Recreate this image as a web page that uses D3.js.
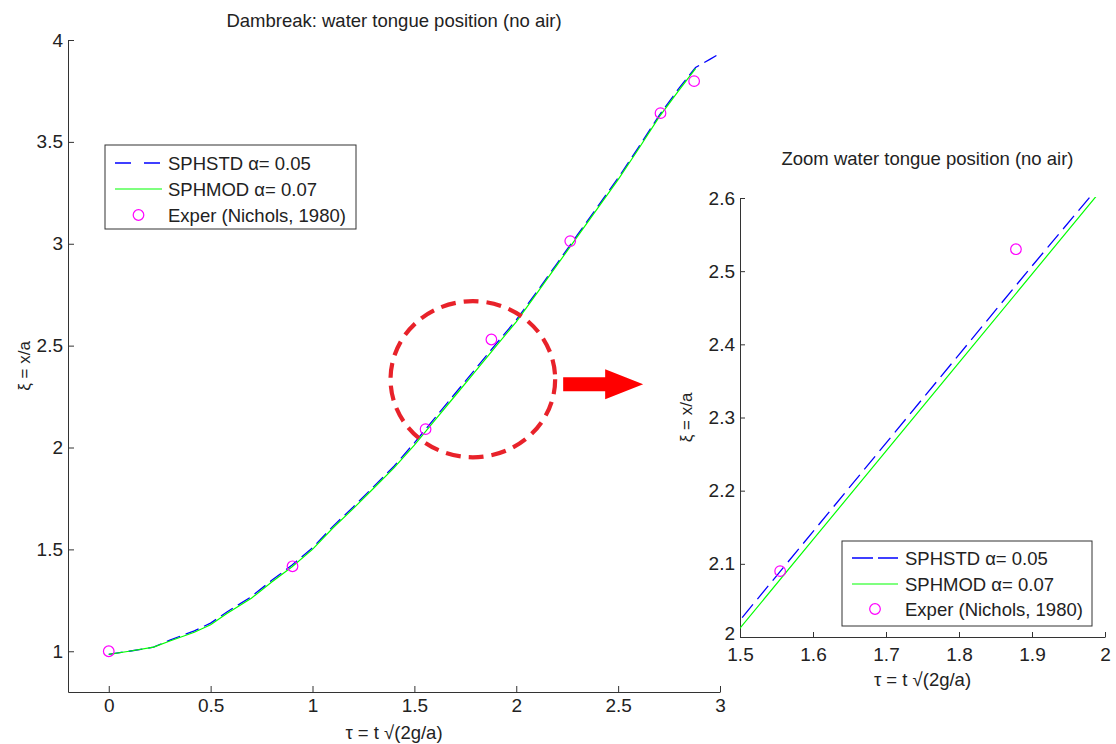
<!DOCTYPE html>
<html>
<head>
<meta charset="utf-8">
<script src="https://cdn.jsdelivr.net/npm/d3@7"></script>
<style>
  html, body { margin: 0; padding: 0; background: #fff; }
  svg { display: block; font-family: "Liberation Sans", Arial, sans-serif; }
  .axis path, .axis line { stroke: #333; stroke-width: 1; }
  .axis text { fill: #222; font-size: 19px; font-family: "Liberation Sans", Arial, sans-serif; }
</style>
</head>
<body>
<svg id="fig" width="1116" height="744"></svg>
<script>
// Water tongue position, SPH runs (dimensionless time tau vs front position xi)
const tauStd = [0, 0.1, 0.22, 0.3, 0.42, 0.5, 0.58, 0.7, 0.8, 0.9, 1.0, 1.1, 1.2, 1.3, 1.4, 1.5, 1.6, 1.7, 1.8, 1.9, 2.0, 2.1, 2.2, 2.3, 2.4, 2.5, 2.6, 2.7, 2.8, 2.88, 2.95, 3.0];
const xiStd  = [0.985, 1.0, 1.02, 1.055, 1.10, 1.138, 1.193, 1.268, 1.348, 1.423, 1.508, 1.613, 1.708, 1.808, 1.908, 2.023, 2.144, 2.265, 2.386, 2.507, 2.626, 2.763, 2.903, 3.043, 3.183, 3.323, 3.473, 3.628, 3.765, 3.865, 3.905, 3.934];

const tauMod = [0, 0.1, 0.22, 0.3, 0.42, 0.5, 0.58, 0.7, 0.8, 0.9, 1.0, 1.1, 1.2, 1.3, 1.4, 1.5, 1.6, 1.7, 1.8, 1.9, 2.0, 2.1, 2.2, 2.3, 2.4, 2.5, 2.6, 2.7, 2.8, 2.88];
const xiMod  = [0.985, 1.0, 1.02, 1.05, 1.093, 1.13, 1.185, 1.26, 1.34, 1.415, 1.50, 1.605, 1.70, 1.80, 1.90, 2.012, 2.133, 2.254, 2.375, 2.496, 2.617, 2.755, 2.895, 3.035, 3.175, 3.315, 3.465, 3.62, 3.755, 3.86];

// Experiment (Nichols, 1980)
const tauExp = [0, 0.902, 1.555, 1.878, 2.265, 2.708, 2.873];
const xiExp  = [1.0, 1.417, 2.09, 2.53, 3.013, 3.641, 3.798];

// Tick values and labels
const mainXTicks = [0, 0.5, 1, 1.5, 2, 2.5, 3];
const mainXLabels = ["0", "0.5", "1", "1.5", "2", "2.5", "3"];
const mainYTicks = [1, 1.5, 2, 2.5, 3, 3.5, 4];
const mainYLabels = ["1", "1.5", "2", "2.5", "3", "3.5", "4"];
const zoomXTicks = [1.5, 1.6, 1.7, 1.8, 1.9, 2.0];
const zoomXLabels = ["1.5", "1.6", "1.7", "1.8", "1.9", "2"];
const zoomYTicks = [2.0, 2.1, 2.2, 2.3, 2.4, 2.5, 2.6];
const zoomYLabels = ["2", "2.1", "2.2", "2.3", "2.4", "2.5", "2.6"];

const seriesNames = ["SPHSTD \u03B1= 0.05", "SPHMOD \u03B1= 0.07", "Exper (Nichols, 1980)"];

const BLUE = "#0000ff", GREEN = "#00ff00", MAGENTA = "#ff00ff";

const svg = d3.select("#fig");

const stdData = tauStd.map((t, i) => [t, xiStd[i]]);
const modData = tauMod.map((t, i) => [t, xiMod[i]]);
const expData = tauExp.map((t, i) => [t, xiExp[i]]);

function drawPanel(cfg) {
  const { x, y, id } = cfg;
  const g = svg.append("g");
  const [x0, x1] = x.range();
  const [y0, y1] = y.range();

  g.append("clipPath").attr("id", id)
    .append("rect")
    .attr("x", x0).attr("y", y1 - 1)
    .attr("width", x1 - x0 + 1).attr("height", y0 - y1 + 1);

  // axes: left and bottom only, ticks pointing inward
  g.append("g").attr("class", "axis")
    .attr("transform", `translate(0,${y0})`)
    .call(d3.axisBottom(x).tickValues(cfg.xTicks)
      .tickFormat((d, i) => cfg.xLabels[i])
      .tickSizeInner(-cfg.tick).tickSizeOuter(0).tickPadding(cfg.xPad));

  const yAxis = g.append("g").attr("class", "axis")
    .attr("transform", `translate(${x0},0)`)
    .call(d3.axisLeft(y).tickValues(cfg.yTicks)
      .tickFormat((d, i) => cfg.yLabels[i])
      .tickSizeInner(-cfg.tick).tickSizeOuter(0).tickPadding(5));
  // lift the lowest y label a little so it clears the first x label
  yAxis.selectAll(".tick text").filter((d, i) => i === 0)
    .attr("y", -cfg.lowLift);

  const line = d3.line().x(d => x(d[0])).y(d => y(d[1]));
  const plot = g.append("g").attr("clip-path", `url(#${id})`);

  plot.append("path").datum(stdData)
    .attr("d", line).attr("fill", "none")
    .attr("stroke", BLUE).attr("stroke-width", 1.3)
    .attr("stroke-dasharray", cfg.dash);

  plot.append("path").datum(modData)
    .attr("d", line).attr("fill", "none")
    .attr("stroke", GREEN).attr("stroke-width", 1.2);

  const [dx0, dx1] = x.domain();
  const [dy0, dy1] = y.domain();
  g.append("g").selectAll("circle")
    .data(expData.filter(d => d[0] >= dx0 && d[0] <= dx1 && d[1] >= dy0 && d[1] <= dy1))
    .join("circle")
    .attr("cx", d => x(d[0])).attr("cy", d => y(d[1]))
    .attr("r", 5.3).attr("fill", "none")
    .attr("stroke", MAGENTA).attr("stroke-width", 1.2);

  // title and axis labels
  g.append("text")
    .attr("x", (x0 + x1) / 2 + cfg.titleDx).attr("y", cfg.titleY)
    .attr("text-anchor", "middle").attr("font-size", 18.5).attr("fill", "#222")
    .text(cfg.title);

  g.append("text")
    .attr("x", (x0 + x1) / 2).attr("y", cfg.xLabelY)
    .attr("text-anchor", "middle").attr("font-size", 18.5).attr("fill", "#222")
    .text("\u03C4 = t \u221A(2g/a)");

  g.append("text")
    .attr("transform", `translate(${cfg.yLabelX},${(y0 + y1) / 2}) rotate(-90)`)
    .attr("text-anchor", "middle").attr("font-size", 17).attr("fill", "#222")
    .text("\u03BE = x/a");

  // legend
  const L = cfg.legend;
  const lg = g.append("g");
  lg.append("rect")
    .attr("x", L.x).attr("y", L.y).attr("width", L.w).attr("height", L.h)
    .attr("fill", "#fff").attr("stroke", "#333").attr("stroke-width", 1);
  L.rows.forEach((ry, i) => {
    if (i === 0) {
      lg.append("line").attr("x1", L.lx0).attr("x2", L.lx1).attr("y1", ry).attr("y2", ry)
        .attr("stroke", BLUE).attr("stroke-width", 1.3).attr("stroke-dasharray", L.dash);
    } else if (i === 1) {
      lg.append("line").attr("x1", L.lx0).attr("x2", L.lx1).attr("y1", ry).attr("y2", ry)
        .attr("stroke", GREEN).attr("stroke-width", 1.2);
    } else {
      lg.append("circle").attr("cx", (L.lx0 + L.lx1) / 2).attr("cy", ry).attr("r", 5.3)
        .attr("fill", "none").attr("stroke", MAGENTA).attr("stroke-width", 1.2);
    }
    lg.append("text").attr("x", L.tx).attr("y", ry + 6.5)
      .attr("font-size", 18.5).attr("fill", "#222")
      .text(seriesNames[i]);
  });
  return g;
}

const xMain = d3.scaleLinear().domain([-0.2, 3]).range([68, 720]);
const yMain = d3.scaleLinear().domain([0.8, 4]).range([692, 40]);

drawPanel({
  id: "clipMain", x: xMain, y: yMain,
  xTicks: mainXTicks, xLabels: mainXLabels, yTicks: mainYTicks, yLabels: mainYLabels,
  tick: 6, xPad: 7, dash: "14,6", lowLift: 0,
  title: "Dambreak: water tongue position (no air)", titleY: 27, titleDx: 0,
  xLabelY: 739, yLabelX: 30,
  legend: { x: 105, y: 145, w: 251, h: 84, rows: [163, 189, 215],
            lx0: 115, lx1: 162, tx: 168, dash: "16,13" }
});

const xZoom = d3.scaleLinear().domain([1.5, 2]).range([740, 1105]);
const yZoom = d3.scaleLinear().domain([2, 2.6]).range([637, 198]);

drawPanel({
  id: "clipZoom", x: xZoom, y: yZoom,
  xTicks: zoomXTicks, xLabels: zoomXLabels, yTicks: zoomYTicks, yLabels: zoomYLabels,
  tick: 5, xPad: 11, dash: "17,7", lowLift: 4,
  title: "Zoom water tongue position (no air)", titleY: 165, titleDx: 5,
  xLabelY: 686, yLabelX: 692,
  legend: { x: 842, y: 541, w: 250, h: 85, rows: [558, 584, 609],
            lx0: 852, lx1: 898, tx: 905, dash: "21,5" }
});

// Highlight of the zoomed region on the main plot, with an arrow to the zoom panel
const focus = { tau: 1.787, xi: 2.335, rTau: 0.404, rXi: 0.383 };
svg.append("ellipse")
  .attr("cx", xMain(focus.tau)).attr("cy", yMain(focus.xi))
  .attr("rx", xMain(focus.tau + focus.rTau) - xMain(focus.tau))
  .attr("ry", yMain(focus.xi) - yMain(focus.xi + focus.rXi))
  .attr("fill", "none").attr("stroke", "#e8222a")
  .attr("stroke-width", 4.2).attr("stroke-dasharray", "15,8");

const ax0 = xMain(focus.tau) + (xMain(focus.tau + focus.rTau) - xMain(focus.tau)) + 8;
const ay = yMain(focus.xi) + 5;
const arrowPts = [
  [ax0, ay - 7], [ax0 + 42, ay - 7], [ax0 + 42, ay - 15], [ax0 + 80, ay],
  [ax0 + 42, ay + 15], [ax0 + 42, ay + 7], [ax0, ay + 7]
];
svg.append("polygon")
  .attr("points", arrowPts.map(p => p.join(",")).join(" "))
  .attr("fill", "#ff0000");
</script>
</body>
</html>
